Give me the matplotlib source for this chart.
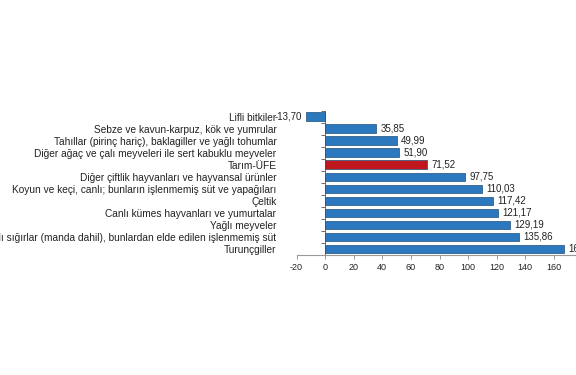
import numpy as np
import matplotlib
matplotlib.use('Agg')
import matplotlib.pyplot as plt
from matplotlib.ticker import FixedLocator

plt.rcParams['font.family'] = ['Liberation Sans', 'DejaVu Sans']

# categories top to bottom
labels = ['Lifli bitkiler',
          'Sebze ve kavun-karpuz, kök ve yumrular',
          'Tahıllar (pirinç hariç), baklagiller ve yağlı tohumlar',
          'Diğer ağaç ve çalı meyveleri ile sert kabuklu meyveler',
          'Tarım-ÜFE',
          'Diğer çiftlik hayvanları ve hayvansal ürünler',
          'Koyun ve keçi, canlı; bunların işlenmemiş süt ve yapağıları',
          'Çeltik',
          'Canlı kümes hayvanları ve yumurtalar',
          'Yağlı meyveler',
          'Canlı sığırlar (manda dahil), bunlardan elde edilen işlenmemiş süt',
          'Turunçgiller']
values = [-13.70, 35.85, 49.99, 51.90, 71.52, 97.75, 110.03, 117.42,
          121.17, 129.19, 135.86, 167.36]
xticks = [-20, 0, 20, 40, 60, 80, 100, 120, 140, 160, 180]

blue = '#2b78be'
red = '#c0161e'
colors = [red if l == 'Tarım-ÜFE' else blue for l in labels]

fig = plt.figure(figsize=(5.76, 3.75), dpi=100)
# axes runs past the right edge, like the cropped original
ax = fig.add_axes([296.5/576, 1-255/375, 286/576, 144.5/375])

# y axis line sits at x=0 (set before the tick labels, it resets ticks)
ax.spines['left'].set_position(('data', 0))
ax.spines['left'].set_color('#555555')
ax.spines['left'].set_linewidth(0.6)
ax.spines['bottom'].set_color('#999999')
ax.spines['bottom'].set_linewidth(0.8)
ax.spines['top'].set_visible(False)
ax.spines['right'].set_visible(False)

y = np.arange(len(labels))
ax.barh(y, values, height=0.7, color=colors, edgecolor='#1f4e79', linewidth=0.5, zorder=3)

for yi, v in zip(y, values):
    txt = f'{v:.2f}'.replace('.', ',')
    if v < 0:
        ax.annotate(txt, (v, yi), xytext=(-2.5, 0), textcoords='offset points',
                    ha='right', va='center', fontsize=7, color='#222222')
    else:
        ax.annotate(txt, (v, yi), xytext=(3, 0), textcoords='offset points',
                    ha='left', va='center', fontsize=7, color='#222222')

ax.set_xlim(-20, 180)
ax.set_ylim(len(labels)-0.5, -0.5)
ax.set_xticks(xticks)
ax.set_xticklabels([str(t) for t in xticks])
ax.tick_params(axis='x', length=3, width=0.6, color='#888888', pad=3,
               labelsize=6.5, labelcolor='#222222')

ax.set_yticks(y)
ax.set_yticklabels(labels)
ax.yaxis.set_minor_locator(FixedLocator(np.arange(-0.5, len(labels), 1.0)))
ax.tick_params(axis='y', which='major', length=0, pad=35, labelsize=7.3,
               labelcolor='#222222')
ax.tick_params(axis='y', which='minor', length=3, width=0.6, color='#555555')

fig.savefig('out.png', dpi=100)
